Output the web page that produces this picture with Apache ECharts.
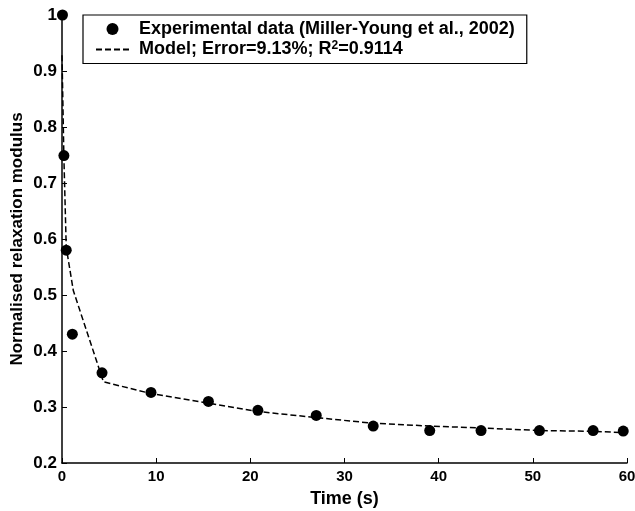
<!DOCTYPE html>
<html>
<head>
<meta charset="utf-8">
<script src="https://cdn.jsdelivr.net/npm/echarts@6/dist/echarts.min.js"></script>
<style>html,body{margin:0;padding:0;background:#fff}#c{width:635px;height:511px}</style>
</head>
<body>
<div id="c"></div>
<script>
// Experimental data (Miller-Young et al., 2002)
const expTime  = [0.05, 0.2, 0.45, 1.1, 4.25, 9.45, 15.55, 20.8, 27.0, 33.05, 39.05, 44.5, 50.7, 56.4, 59.6];
const expValue = [1.0, 0.749, 0.58, 0.43, 0.361, 0.326, 0.31, 0.294, 0.285, 0.266, 0.258, 0.258, 0.258, 0.258, 0.257];
// Model curve
const modelTime  = [0, 0.2, 0.45, 1.2, 4.4, 9.45, 15.55, 20.8, 27.0, 33.05, 39.05, 44.5, 50.7, 56.4, 60];
const modelValue = [0.928, 0.746, 0.585, 0.508, 0.345, 0.324, 0.307, 0.292, 0.281, 0.271, 0.266, 0.2625, 0.258, 0.2566, 0.254];
const xTicks = {min: 0, max: 60, interval: 10};
const yTicks = {min: 0.2, max: 1, interval: 0.1};

const F = '"Liberation Sans", Arial, sans-serif';
const chart = echarts.init(document.getElementById('c'), null, {renderer: 'canvas'});
const txt = {fontFamily: F, fontWeight: 'bold', fontSize: 18, color: '#000'};
chart.setOption({
  animation: false,
  backgroundColor: '#fff',
  grid: {left: 62, right: 8, top: 15, bottom: 48, containLabel: false, outerBoundsMode: 'none'},
  legend: {
    orient: 'vertical', left: 83, top: 15,
    padding: [5, 12, 5, 12], itemGap: 2,
    itemWidth: 33, itemHeight: 12,
    borderColor: '#000', borderWidth: 1.2,
    backgroundColor: '#fff',
    textStyle: Object.assign({}, txt, {
      rich: {
        p: {width: 5},
        b: txt,
        sup: {fontFamily: F, fontWeight: 'bold', fontSize: 12, color: '#000', verticalAlign: 'top', padding: [0, 0, 7, 0]}
      }
    }),
    data: [
      {name: 'Experimental data (Miller-Young et al., 2002)', icon: 'circle', itemStyle: {opacity: 1}},
      {name: 'Model', itemStyle: {opacity: 0, borderWidth: 0}}
    ],
    formatter: function (n) {
      if (n === 'Model') return '{p|}{b|Model; Error=9.13%; R}{sup|2}{b|=0.9114}';
      return '{p|}{b|' + n + '}';
    }
  },
  xAxis: {
    type: 'value', min: xTicks.min, max: xTicks.max, interval: xTicks.interval,
    name: 'Time (s)', nameLocation: 'middle', nameGap: 27, nameMoveOverlap: false,
    nameTextStyle: {fontFamily: F, fontWeight: 'bold', fontSize: 18, color: '#000'},
    axisLine: {lineStyle: {color: '#000', width: 1.5}},
    axisTick: {inside: true, length: 5, lineStyle: {color: '#000', width: 1}},
    axisLabel: {fontFamily: F, fontWeight: 'bold', fontSize: 15, color: '#000', margin: 6},
    splitLine: {show: false}
  },
  yAxis: {
    type: 'value', min: yTicks.min, max: yTicks.max, interval: yTicks.interval,
    name: 'Normalised relaxation modulus', nameLocation: 'middle', nameGap: 36, nameMoveOverlap: false,
    nameTextStyle: {fontFamily: F, fontWeight: 'bold', fontSize: 17, color: '#000'},
    axisLine: {lineStyle: {color: '#000', width: 1.5}},
    axisTick: {inside: true, length: 5, lineStyle: {color: '#000', width: 1}},
    axisLabel: {fontFamily: F, fontWeight: 'bold', fontSize: 17, color: '#000', margin: 5,
      formatter: v => (Math.round(v * 10) / 10).toString()},
    splitLine: {show: false}
  },
  series: [
    {
      name: 'Experimental data (Miller-Young et al., 2002)', type: 'scatter',
      symbol: 'circle', symbolSize: 11, clip: false,
      itemStyle: {color: '#000', opacity: 1},
      data: expTime.map((t, i) => [t, expValue[i]]),
      z: 3
    },
    {
      name: 'Model', type: 'line', symbol: 'none', showSymbol: false,
      lineStyle: {color: '#000', width: 1.5, type: [6, 3]},
      itemStyle: {color: '#000'},
      data: modelTime.map((t, i) => [t, modelValue[i]]),
      z: 2
    }
  ]
});
</script>
</body>
</html>
